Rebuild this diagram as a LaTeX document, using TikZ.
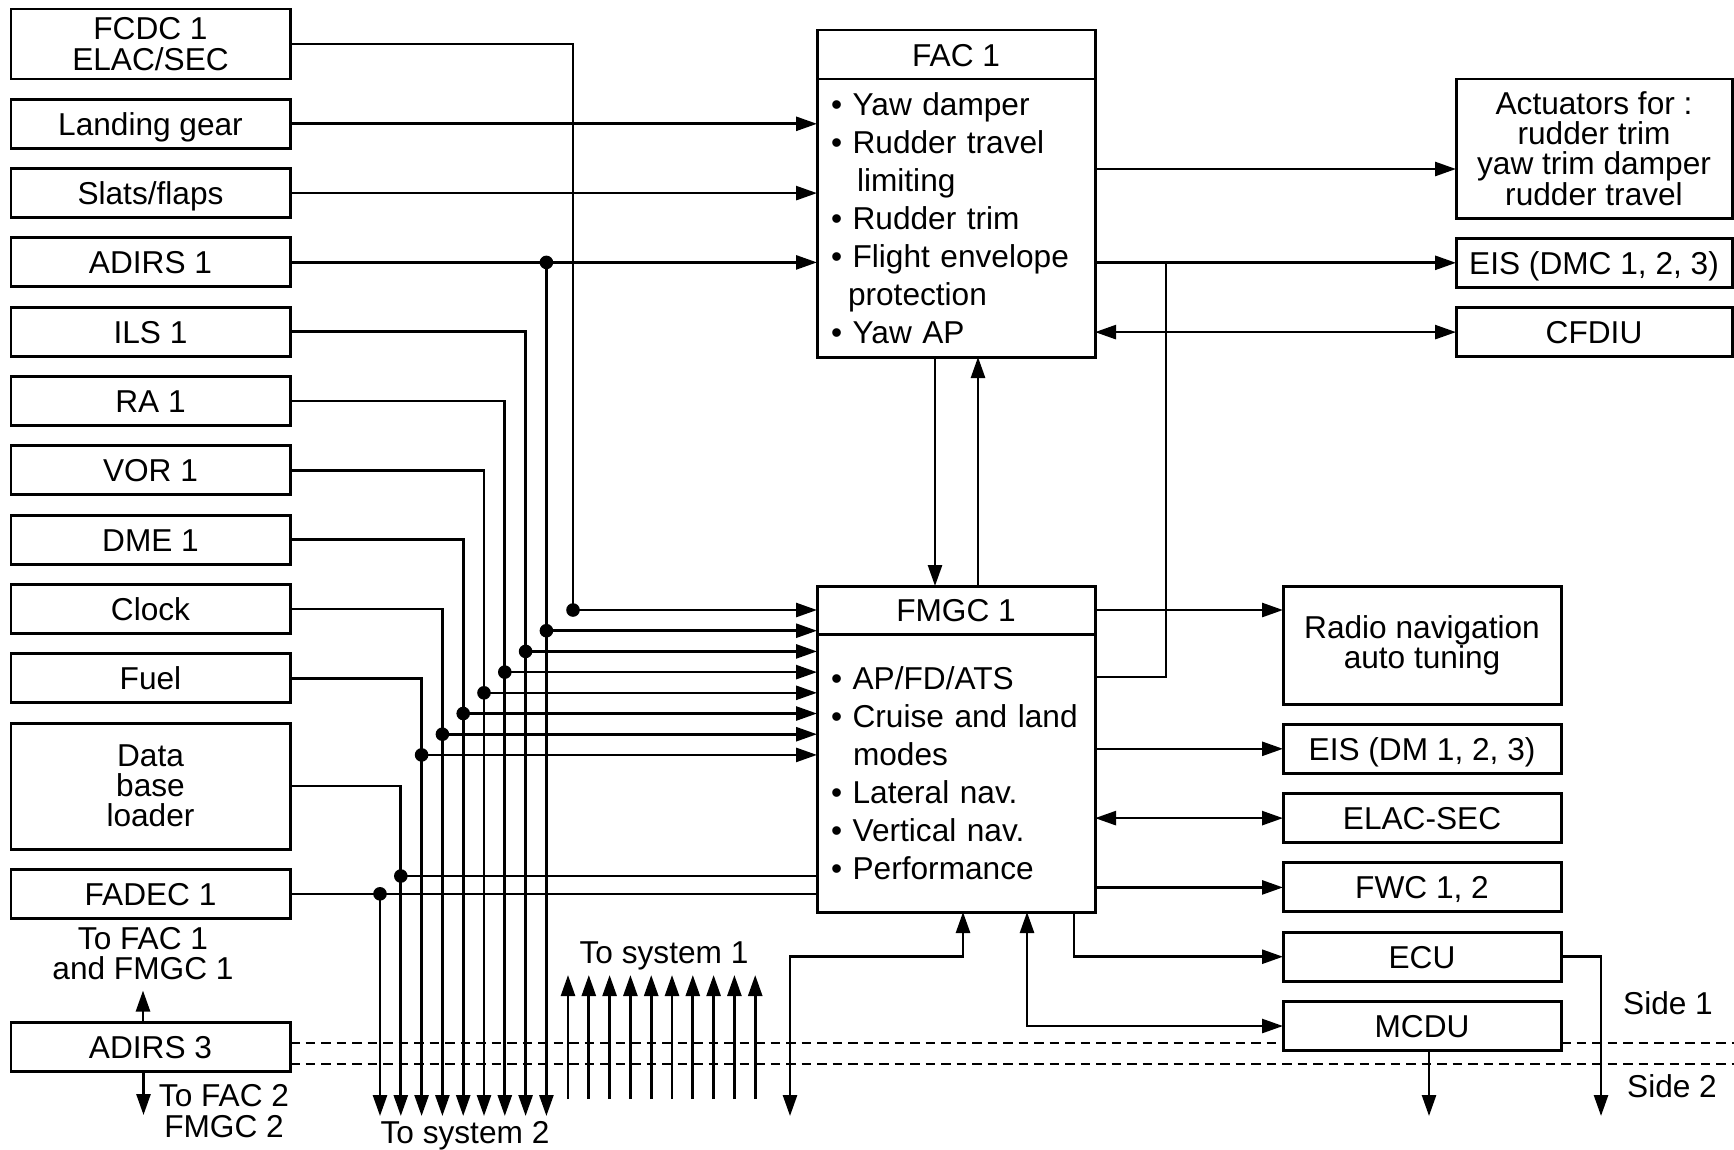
\documentclass[tikz,border=0pt]{standalone}
\usepackage{fontspec}
\setmainfont{Liberation Sans}
\usetikzlibrary{arrows.meta, positioning, calc, backgrounds}
\tikzset{
  unit/.style={rectangle, draw, line width=0.85pt, fill=white, outer sep=0pt, inner sep=0.5mm,
    align=center, font=\fontsize{9}{8.6}\selectfont},
  unitS/.style={unit, text height=2.3mm, text depth=0pt},
  src/.style={unitS, minimum width=27.9mm, minimum height=4.9mm},
  srcM/.style={unit, minimum width=27.9mm},
  dest/.style={unitS, minimum width=27.8mm, minimum height=4.9mm},
  destM/.style={unit, minimum width=27.8mm},
  compHead/.style={unitS, minimum width=27.8mm, minimum height=4.9mm},
  compBody/.style={unit, align=left, text width=25mm, inner xsep=1.4mm, minimum height=27.8mm,
    font=\fontsize{9}{10.8}\selectfont},
  wire/.style={line width=0.75pt},
  arrow/.style={wire, -{Triangle[length=2.1mm, width=1.4mm]}},
  arrowb/.style={wire, {Triangle[length=2.1mm, width=1.4mm]}-{Triangle[length=2.1mm, width=1.4mm]}},
  sideline/.style={line width=0.8pt, dash pattern=on 0.95mm off 0.6mm},
  note/.style={align=center, inner sep=0pt, font=\fontsize{9}{8.6}\selectfont},
}

\begin{document}
\begin{tikzpicture}[x=1mm, y=1mm, node distance=2.03mm]
\useasboundingbox (0,0) rectangle (173.4,-114.9);

\node[srcM, minimum height=7mm, anchor=north west] (fcdc) at (1.1,-0.9) {FCDC 1\\ELAC/SEC};
\node[src, below=of fcdc] (gear) {Landing gear};
\node[src, below=of gear] (slats) {Slats/flaps};
\node[src, below=of slats] (adirsA) {ADIRS 1};
\node[src, below=of adirsA] (ils) {ILS 1};
\node[src, below=of ils] (ra) {RA 1};
\node[src, below=of ra] (vor) {VOR 1};
\node[src, below=of vor] (dme) {DME 1};
\node[src, below=of dme] (clock) {Clock};
\node[src, below=of clock] (fuel) {Fuel};
\node[srcM, minimum height=12.6mm, below=of fuel] (dbl) {Data\\base\\loader};
\node[src, below=of dbl] (fadec) {FADEC 1};
\node[src, below=10.45mm of fadec] (adirsC) {ADIRS 3};

\node[compHead, anchor=north west] (facT) at (81.7,-3.0) {FAC 1};
\node[compBody, below=0pt of facT] (facB) {\textbullet\ Yaw damper\\
  \textbullet\ Rudder travel\\ \hspace*{2.6mm}limiting\\
  \textbullet\ Rudder trim\\
  \textbullet\ Flight envelope\\ \hspace*{1.7mm}protection\\
  \textbullet\ Yaw AP};
\node[compHead, minimum height=4.8mm, anchor=north west] (fmgcT) at (81.7,-58.6) {FMGC 1};
\node[compBody, below=0pt of fmgcT] (fmgcB) {\textbullet\ AP/FD/ATS\\
  \textbullet\ Cruise and land\\ \hspace*{2.2mm}modes\\
  \textbullet\ Lateral nav.\\
  \textbullet\ Vertical nav.\\
  \textbullet\ Performance};

\node[destM, minimum width=27.6mm, minimum height=13.9mm, anchor=north west] (act) at (145.6,-7.9)
  {Actuators for :\\rudder trim\\yaw trim damper\\rudder travel};
\node[dest, minimum width=27.6mm, below=of act] (eisA) {EIS (DMC 1, 2, 3)};
\node[dest, minimum width=27.6mm, below=of eisA] (cfdiu) {CFDIU};

\node[destM, minimum height=11.8mm, anchor=north west] (radio) at (128.3,-58.6) {Radio navigation\\auto tuning};
\node[dest, below=of radio] (eisB) {EIS (DM 1, 2, 3)};
\node[dest, below=of eisB] (elac) {ELAC-SEC};
\node[dest, below=of elac] (fwc) {FWC 1, 2};
\node[dest, below=of fwc] (ecu) {ECU};
\node[dest, below=of ecu] (mcdu) {MCDU};

\node[note] (toFacA) at (14.3,-95.35) {To FAC 1\\and FMGC 1};
\node[note] (toFacB) at (22.4,-111.1) {To FAC 2\\FMGC 2};
\node[note] (sysA) at (66.4,-95.6) {To system 1};
\node[note] (sysB) at (46.5,-113.6) {To system 2};
\node[note] (sideA) at (166.8,-100.35) {Side 1};
\node[note] (sideB) at (167.2,-108.65) {Side 2};

\begin{scope}[on background layer]
\draw[sideline] (adirsC.east |- 0,-104.3) -- (173.4,-104.3);
\draw[sideline] (adirsC.east |- 0,-106.4) -- (173.4,-106.4);
\end{scope}

\draw[arrow] (gear.east) -- (facB.west |- gear.east);
\draw[arrow] (slats.east) -- (facB.west |- slats.east);
\draw[arrow] (adirsA.east) -- (facB.west |- adirsA.east);

\foreach \i in {1,...,9} \coordinate (down\i) at ({56.72-2.08*\i},-111.6);
\coordinate (fcdcJ) at (fmgcT.west -| 57.3,0);
\draw[wire] (fcdc.east) -| (fcdcJ);
\fill (fcdcJ) circle (0.68mm);
\draw[arrow] (fcdcJ) -- (fmgcT.west);
\fill (adirsA.east -| down1) circle (0.68mm);
\draw[arrow] (adirsA.east -| down1) -- (down1);
\foreach \s [count=\i from 2] in {ils, ra, vor, dme, clock, fuel}
  \draw[arrow] (\s.east) -| (down\i);
\foreach \i in {1,...,7} {
  \coordinate (tap\i) at ($(down\i |- fmgcT.west)+(0,-2.07*\i)$);
  \fill (tap\i) circle (0.68mm);
  \draw[arrow] (tap\i) -- (fmgcB.west |- tap\i);
}
\draw[arrow] (dbl.east) -| (down8);
\coordinate (tap8) at (down8 |- 0,-87.6);
\fill (tap8) circle (0.68mm);
\draw[wire] (tap8) -- (fmgcB.west |- tap8);
\draw[wire] (fadec.east) -- (fmgcB.west |- fadec.east);
\fill (fadec.east -| down9) circle (0.68mm);
\draw[arrow] (fadec.east -| down9) -- (down9);

\foreach \j in {0,...,9} \draw[arrow] ({56.8+2.08*\j},-109.9) -- ++(0,12.4);

\draw[arrow] (adirsC.north -| toFacA) -- ([yshift=-1mm]toFacA.south);
\coordinate (toFacBend) at (14.35,-111.5);
\draw[arrow] (adirsC.south -| toFacBend) -- (toFacBend);

\coordinate (facDn) at ([xshift=-2.1mm]facB.south);
\coordinate (facUp) at ([xshift=2.2mm]facB.south);
\draw[arrow] (facDn) -- (facDn |- fmgcT.north);
\draw[arrow] (facUp |- fmgcT.north) -- (facUp);

\coordinate (actIn) at ([yshift=-2.05mm]act.west);
\draw[arrow] (facB.east |- actIn) -- (actIn);
\draw[arrow] (facB.east |- eisA.west) -- (eisA.west);
\draw[arrowb] (facB.east |- cfdiu.west) -- (cfdiu.west);

\draw[arrow] (fmgcT.east) -- (radio.west |- fmgcT.east);
\coordinate (apOut) at ([yshift=-4.3mm]fmgcB.north east);
\draw[wire] (apOut) -| ($(facB.east |- eisA.west)+(7.1,0)$);
\draw[arrow] (fmgcB.east |- eisB.west) -- (eisB.west);
\draw[arrowb] (fmgcB.east |- elac.west) -- (elac.west);
\draw[arrow] (fmgcB.east |- fwc.west) -- (fwc.west);

\coordinate (ecuLink) at ([xshift=11.8mm]fmgcB.south);
\coordinate (mcduLink) at ([xshift=7.1mm]fmgcB.south);
\coordinate (sysLink) at ([xshift=0.7mm]fmgcB.south);
\coordinate (sysOut) at (79.0,-111.6);
\draw[arrow] (ecuLink) |- (ecu.west);
\draw[arrowb] (mcduLink) |- (mcdu.west);
\draw[arrowb] (sysOut) |- (sysLink |- ecu.west) -- (sysLink);

\coordinate (ecuOut) at (160.1,-111.6);
\coordinate (mcduOut) at (142.9,-111.6);
\draw[arrow] (ecu.east) -| (ecuOut);
\draw[arrow] (mcdu.south -| mcduOut) -- (mcduOut);
\end{tikzpicture}
\end{document}
